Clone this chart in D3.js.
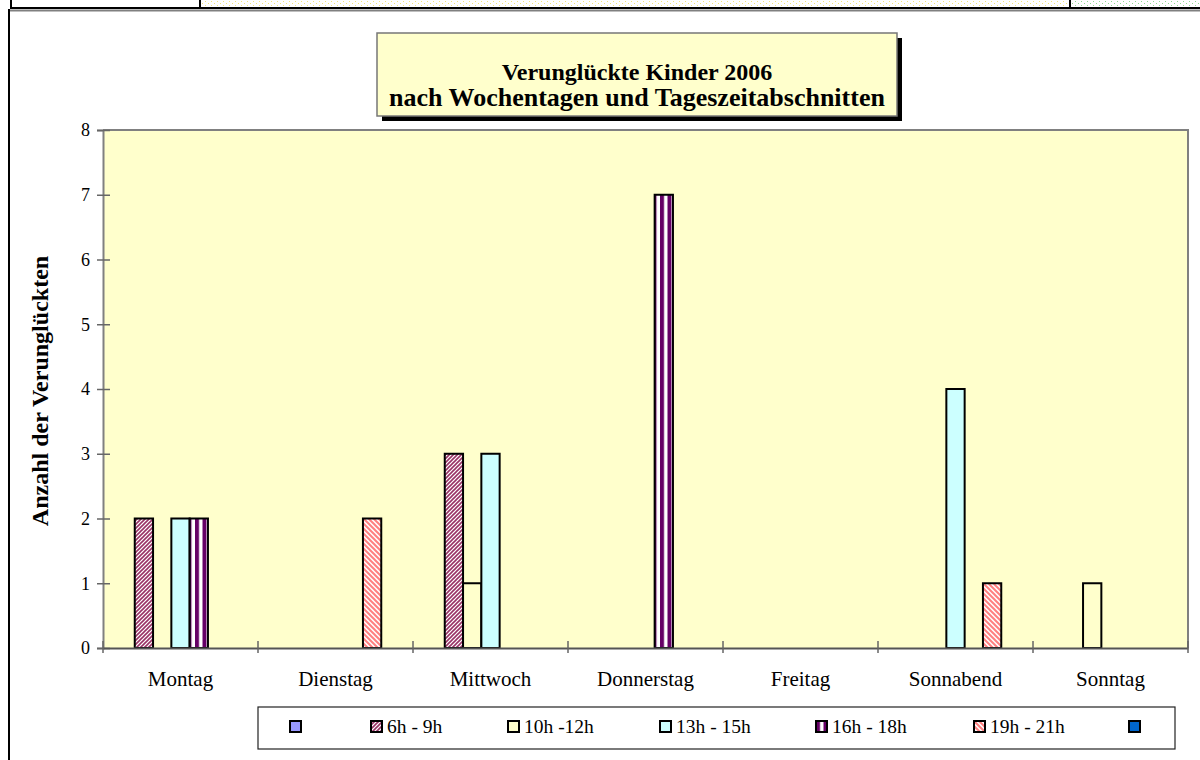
<!DOCTYPE html>
<html>
<head>
<meta charset="utf-8">
<script src="https://cdn.jsdelivr.net/npm/d3@7/dist/d3.min.js"></script>
<style>
  body { margin: 0; background: #fff; }
  svg { display: block; }
  text { font-family: "Liberation Serif", "Times New Roman", serif; fill: #000; }
</style>
</head>
<body>
<div id="chart"></div>
<script>
// categories and series
const days = ["Montag", "Dienstag", "Mittwoch", "Donnerstag", "Freitag", "Sonnabend", "Sonntag"];
const seriesNames = ["", "6h - 9h", "10h -12h", "13h - 15h", "16h - 18h", "19h - 21h", ""];
const blankA  = [null, null, null, null, null, null, null];
const h6_9    = [2, null, 3, null, null, null, null];
const h10_12  = [null, null, 1, null, null, null, 1];
const h13_15  = [2, null, 3, null, null, 4, null];
const h16_18  = [2, null, null, 7, null, null, null];
const h19_21  = [null, 2, null, null, null, 1, null];
const blankB  = [null, null, null, null, null, null, null];
const yTicks  = [0, 1, 2, 3, 4, 5, 6, 7, 8];

const titleLines = ["Verunglückte Kinder 2006", "nach Wochentagen und Tageszeitabschnitten"];
const yTitle = "Anzahl der Verunglückten";

const seriesValues = [blankA, h6_9, h10_12, h13_15, h16_18, h19_21, blankB];
const seriesFill = ["#9999FF", "url(#p69)", "#FFFFCC", "#CCFFFF", "url(#p1618)", "url(#p1921)", "#0066CC"];

const width = 1200, height = 760;
const plot = {left: 103, right: 1188, top: 130, bottom: 648};

const svg = d3.select("#chart").append("svg")
  .attr("width", width)
  .attr("height", height);

// patterns
const defs = svg.append("defs");

const p69 = defs.append("pattern").attr("id", "p69")
  .attr("patternUnits", "userSpaceOnUse").attr("width", 4).attr("height", 4);
p69.append("rect").attr("width", 4).attr("height", 4).attr("fill", "#fff");
p69.append("path").attr("d", "M-1,1 L1,-1 M0,4 L4,0 M3,5 L5,3")
  .attr("stroke", "#993366").attr("stroke-width", 1.6);

const p1921 = defs.append("pattern").attr("id", "p1921")
  .attr("patternUnits", "userSpaceOnUse").attr("width", 5).attr("height", 5);
p1921.append("rect").attr("width", 5).attr("height", 5).attr("fill", "#fff");
p1921.append("path").attr("d", "M-1,4 L1,6 M0,0 L5,5 M4,-1 L6,1")
  .attr("stroke", "#FF8080").attr("stroke-width", 2);

const p1618 = defs.append("pattern").attr("id", "p1618")
  .attr("patternUnits", "userSpaceOnUse").attr("width", 7.5).attr("height", 4);
p1618.append("rect").attr("width", 7.5).attr("height", 4).attr("fill", "#fff");
p1618.append("rect").attr("x", 0).attr("width", 4).attr("height", 4).attr("fill", "#660066");

const dotsY = defs.append("pattern").attr("id", "dotsY")
  .attr("patternUnits", "userSpaceOnUse").attr("width", 6).attr("height", 4);
dotsY.append("rect").attr("x", 1).attr("y", 1).attr("width", 1).attr("height", 1).attr("fill", "#F2E27A");
dotsY.append("rect").attr("x", 4).attr("y", 3).attr("width", 1).attr("height", 1).attr("fill", "#F2E27A");

const dotsG = defs.append("pattern").attr("id", "dotsG")
  .attr("patternUnits", "userSpaceOnUse").attr("width", 6).attr("height", 4);
dotsG.append("rect").attr("x", 1).attr("y", 1).attr("width", 1).attr("height", 1).attr("fill", "#8FD88F");
dotsG.append("rect").attr("x", 4).attr("y", 3).attr("width", 1).attr("height", 1).attr("fill", "#8FD88F");

// spreadsheet strip at the very top
svg.append("rect").attr("x", 200).attr("y", 0).attr("width", 870).attr("height", 8).attr("fill", "url(#dotsY)");
svg.append("rect").attr("x", 1070).attr("y", 0).attr("width", 130).attr("height", 8).attr("fill", "url(#dotsG)");
svg.append("line").attr("x1", 10).attr("x2", width).attr("y1", 8).attr("y2", 8)
  .attr("stroke", "#000").attr("stroke-width", 2);
[11, 200, 1070].forEach(x => {
  svg.append("line").attr("x1", x).attr("x2", x).attr("y1", 0).attr("y2", 8)
    .attr("stroke", "#000").attr("stroke-width", 2);
});

// chart frame
svg.append("line").attr("x1", 9).attr("x2", width).attr("y1", 10.5).attr("y2", 10.5)
  .attr("stroke", "#808080").attr("stroke-width", 2);
svg.append("line").attr("x1", 9).attr("x2", 9).attr("y1", 9).attr("y2", height)
  .attr("stroke", "#000").attr("stroke-width", 2);

// scales
const x = d3.scaleBand(days, [plot.left, plot.right]);
const xs = d3.scaleBand(d3.range(seriesValues.length), [0, x.bandwidth()])
  .paddingInner(0).paddingOuter(0.735);
const y = d3.scaleLinear([0, 8], [plot.bottom, plot.top]);

// plot area
svg.append("rect")
  .attr("x", plot.left).attr("y", plot.top)
  .attr("width", plot.right - plot.left).attr("height", plot.bottom - plot.top)
  .attr("fill", "#FFFFCC");
svg.append("path")
  .attr("d", `M${plot.left},${plot.top}H${plot.right}V${plot.bottom}`)
  .attr("fill", "none").attr("stroke", "#808080").attr("stroke-width", 2);

// bars
const bars = [];
seriesValues.forEach((vals, si) => {
  vals.forEach((v, di) => { if (v != null) bars.push({si, day: days[di], v}); });
});

svg.append("g").selectAll("rect")
  .data(bars)
  .join("rect")
  .attr("x", d => x(d.day) + xs(d.si))
  .attr("y", d => y(d.v))
  .attr("width", xs.bandwidth())
  .attr("height", d => y(0) - y(d.v))
  .attr("fill", d => seriesFill[d.si])
  .attr("stroke", "#000")
  .attr("stroke-width", 2);

// y axis
const yAxis = svg.append("g")
  .attr("transform", `translate(${plot.left},0)`)
  .call(d3.axisLeft(y).tickValues(yTicks).tickSize(6).tickPadding(7).tickFormat(d3.format("d")));
yAxis.select(".domain").attr("stroke", "#808080").attr("stroke-width", 2);
yAxis.selectAll(".tick line").attr("x1", 7).attr("x2", -6).attr("stroke", "#666").attr("stroke-width", 1.5);
yAxis.selectAll(".tick text").attr("font-size", 18).attr("font-family", "Liberation Serif");

// x axis
const xAxis = svg.append("g")
  .attr("transform", `translate(0,${plot.bottom})`)
  .call(d3.axisBottom(x).tickSize(0).tickPadding(23));
xAxis.select(".domain").attr("stroke", "#555").attr("stroke-width", 2);
xAxis.selectAll(".tick text").attr("font-size", 21).attr("font-family", "Liberation Serif");

svg.append("g").selectAll("line")
  .data(days.map(d => x(d)).concat([plot.right]))
  .join("line")
  .attr("x1", d => d).attr("x2", d => d)
  .attr("y1", plot.bottom - 7).attr("y2", plot.bottom + 5)
  .attr("stroke", "#666").attr("stroke-width", 1.5);

// y title
svg.append("text")
  .attr("transform", `translate(48,${(plot.top + plot.bottom) / 2 + 2}) rotate(-90)`)
  .attr("text-anchor", "middle")
  .attr("font-size", 24).attr("font-weight", "bold")
  .text(yTitle);

// title box
const tb = {x: 377, y: 33, w: 520, h: 83};
svg.append("rect").attr("x", tb.x + 5).attr("y", tb.y + 5).attr("width", tb.w).attr("height", tb.h).attr("fill", "#000");
svg.append("rect").attr("x", tb.x).attr("y", tb.y).attr("width", tb.w).attr("height", tb.h)
  .attr("fill", "#FFFFCC").attr("stroke", "#777").attr("stroke-width", 1.5);
svg.append("g").selectAll("text")
  .data(titleLines)
  .join("text")
  .attr("x", tb.x + tb.w / 2)
  .attr("y", (d, i) => 80 + i * 26)
  .attr("text-anchor", "middle")
  .attr("font-size", (d, i) => i === 0 ? 24 : 26)
  .attr("font-weight", "bold")
  .text(d => d);

// legend
const lg = {x: 258, y: 707, w: 917, h: 42};
const legendX = [290, 371, 508, 660, 816, 974, 1129];
svg.append("rect").attr("x", lg.x).attr("y", lg.y).attr("width", lg.w).attr("height", lg.h)
  .attr("fill", "#fff").attr("stroke", "#222").attr("stroke-width", 1.2);
const li = svg.append("g").selectAll("g")
  .data(seriesNames.map((name, i) => ({name, i})))
  .join("g")
  .attr("transform", d => `translate(${legendX[d.i]},721)`);
li.append("rect")
  .attr("width", 11).attr("height", 11)
  .attr("fill", d => seriesFill[d.i])
  .attr("stroke", "#000").attr("stroke-width", 2);
li.append("text")
  .attr("x", 16).attr("y", 12)
  .attr("font-size", 19.5)
  .text(d => d.name);
</script>
</body>
</html>
